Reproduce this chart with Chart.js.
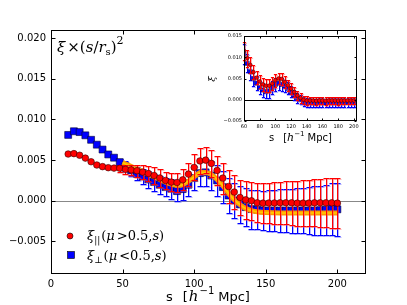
<!DOCTYPE html>
<html>
<head>
<meta charset="utf-8">
<script src="https://cdn.jsdelivr.net/npm/chart.js@4.4.1/dist/chart.umd.min.js"></script>
<style>
html, body { margin: 0; padding: 0; background: #fff; }
#wrap { position: relative; width: 407px; height: 305px; }
#main { position: absolute; left: 0; top: 0; }
#inset { position: absolute; left: 200px; top: 30px; }
</style>
</head>
<body>
<div id="wrap">
<canvas id="main" width="407" height="305"></canvas>
<canvas id="inset" width="165" height="115"></canvas>
</div>
<script>
// separacoes s (h^-1 Mpc) do painel principal
const sVals = [12,16,20,24,28,32,36,40,44,48,52,56,60,64,68,72,76,80,84,88,92,96,100,104,108,112,116,120,124,128,132,136,140,144,148,152,156,160,164,168,172,176,180,184,188,192,196,200];

// xi_par * (s/rs)^2, mu > 0.5
const xiPar = [0.00575,0.0058,0.0056,0.00525,0.0048,0.0044,0.0042,0.00407,0.00402,0.004,
  0.00387,0.0038,0.0037,0.00353,0.00336,0.00311,0.0028,0.0025,0.0023,0.00225,
  0.00258,0.00328,0.0041,0.0049,0.005,0.0046,0.00373,0.00279,0.00176,0.00107,
  0.00041,0.00012,0.0,-0.00025,-0.00029,-0.00028,-0.00027,-0.00025,-0.00025,-0.00025,
  -0.00029,-0.00029,-0.00029,-0.00025,-0.00025,-0.00025,-0.00025,-0.00029];
const xiParErr = [0,0,0,0,0,0,0,0,0,0.0004,
  0.00055,0.00065,0.00075,0.00085,0.00095,0.001,0.00105,0.0011,0.00115,0.0012,
  0.0013,0.0014,0.0016,0.0016,0.0016,0.0017,0.0018,0.0019,0.002,0.0021,
  0.0022,0.0023,0.00235,0.0024,0.00245,0.0025,0.00255,0.0026,0.00265,0.0027,
  0.00275,0.0028,0.00285,0.0029,0.00295,0.003,0.00305,0.0031];

// xi_perp * (s/rs)^2, mu < 0.5
const xiPerp = [0.0081,0.00855,0.00845,0.00805,0.0075,0.0069,0.0063,0.0057,0.0053,0.00476,
  0.00425,0.00373,0.00332,0.00299,0.00262,0.0023,0.00197,0.00168,0.00148,0.00119,
  0.00144,0.00197,0.00279,0.0034,0.0035,0.00311,0.0025,0.00168,0.00065,0.00004,
  -0.00045,-0.00078,-0.00102,-0.0011,-0.00119,-0.0012,-0.0012,-0.0012,-0.0012,-0.0012,
  -0.0012,-0.0012,-0.0012,-0.0012,-0.00115,-0.0011,-0.001,-0.00105];
const xiPerpErr = [0,0,0,0,0,0,0,0,0,0.0004,
  0.0006,0.0007,0.0008,0.0009,0.001,0.00105,0.0011,0.00115,0.0012,0.00125,
  0.0013,0.0014,0.0015,0.0016,0.0017,0.0018,0.0019,0.002,0.0021,0.0022,
  0.0023,0.0023,0.0024,0.0024,0.0024,0.0025,0.0025,0.0026,0.0026,0.0027,
  0.0028,0.0028,0.0029,0.003,0.003,0.0031,0.0032,0.0033];

// curva do modelo (laranja)
const modelS = [50,55,60,65,70,75,80,85,90,95,100,105,110,115,120,125,130,135,140,145,150,160,170,180,190,200];
const modelV = [0.0047,0.0043,0.0039,0.0035,0.0031,0.0027,0.0023,0.002,0.0019,0.0023,0.00295,0.0035,0.0034,0.0028,0.00185,0.0007,-0.0002,-0.00085,-0.0012,-0.00138,-0.00145,-0.0015,-0.0015,-0.0015,-0.0015,-0.0015];

// marcas dos eixos
const mainXTicks = [0, 50, 100, 150, 200];
const mainYTicks = [-0.005, 0, 0.005, 0.010, 0.015, 0.020];
const insetXTicks = [60, 80, 100, 120, 140, 160, 180, 200];
const insetYTicks = [-0.005, 0, 0.005, 0.010, 0.015];

// painel interno: xi sem peso
const insetS = [60,64,68,72,76,80,84,88,92,96,100,104,108,112,116,120,124,128,132,136,140,144,148,152,156,160,164,168,172,176,180,184,188,192,196,200];
const insetPar = [0.0115,0.0098,0.0082,0.0065,0.0052,0.0043,0.0036,0.0033,0.0033,0.0038,
  0.0046,0.005,0.0049,0.0042,0.0034,0.0026,0.0018,0.001,0.0004,0.0,-0.0002,
  -0.0002,-0.0002,-0.00025,-0.0002,-0.0002,-0.00025,-0.0002,-0.0002,-0.0002,-0.00025,-0.0002,-0.0002,-0.0002,-0.0002,-0.0002];
const insetParErr = [0.0022,0.002,0.0018,0.0016,0.0015,0.0015,0.0015,0.0015,0.0015,0.0015,
  0.0015,0.0014,0.0014,0.0014,0.0013,0.0013,0.0012,0.0011,0.0011,0.001,0.001,
  0.0009,0.0009,0.0009,0.0009,0.0009,0.0009,0.0009,0.0009,0.0009,0.0009,0.0009,0.0009,0.0009,0.0009,0.0009];
const insetPerp = [0.0108,0.0086,0.0066,0.005,0.0039,0.0029,0.0023,0.0019,0.0021,0.0029,
  0.0036,0.0039,0.0036,0.0032,0.0027,0.0019,0.0011,0.0005,0.0,-0.00045,-0.0007,
  -0.0007,-0.00075,-0.00075,-0.0007,-0.0007,-0.00075,-0.0007,-0.0007,-0.0007,-0.0007,-0.0007,-0.00065,-0.0006,-0.0006,-0.0006];
const insetPerpErr = [0.0024,0.0021,0.0019,0.0017,0.0016,0.0016,0.0016,0.0016,0.0016,0.0016,
  0.0015,0.0015,0.0015,0.0014,0.0014,0.0013,0.0012,0.0012,0.0011,0.0011,0.001,
  0.001,0.001,0.001,0.001,0.001,0.001,0.001,0.001,0.001,0.001,0.001,0.001,0.001,0.001,0.001];

const SANS = "'DejaVu Sans', sans-serif";
const SERIF = "'DejaVu Serif', serif";

function pts(xs, ys) { return xs.map((x, i) => ({ x: x, y: ys[i] })); }
function fixTicks(list) { return s => { s.ticks = list.map(v => ({ value: v })); }; }
function fmtY(v) {
    if (Math.abs(v) < 1e-12) return '0.000';
    return (v < 0 ? '\u2212' : '') + Math.abs(v).toFixed(3);
}
// escreve pedacos de texto em sequencia (para a notacao matematica)
function drawRuns(ctx, x, y, runs) {
    runs.forEach(r => {
        ctx.font = r.f;
        ctx.fillText(r.t, x, y + (r.dy || 0));
        x += ctx.measureText(r.t).width + (r.dx || 0);
    });
}

// barras de erro desenhadas pelas escalas do grafico
const errorBars = {
    id: 'errorBars',
    beforeDatasetDraw(chart, args) {
        const ds = chart.data.datasets[args.index];
        if (!ds.errors) return;
        const { ctx, scales: { x, y } } = chart;
        const cap = ds.capHalf;
        ctx.save();
        ds.data.forEach((p, i) => {
            const e = ds.errors[i];
            if (!e) return;
            const px = Math.round(x.getPixelForValue(p.x)) + 0.5;
            const top = Math.round(y.getPixelForValue(p.y + e)) + 0.5;
            const bot = Math.round(y.getPixelForValue(p.y - e)) + 0.5;
            // halo claro deslocado, depois a linha fina
            ctx.strokeStyle = ds.errHalo;
            ctx.lineWidth = 1;
            ctx.beginPath();
            ctx.moveTo(px + 1, top); ctx.lineTo(px + 1, bot);
            ctx.moveTo(px - cap, top + 1); ctx.lineTo(px + cap + 1, top + 1);
            ctx.moveTo(px - cap, bot + 1); ctx.lineTo(px + cap + 1, bot + 1);
            ctx.stroke();
            ctx.strokeStyle = ds.errColor;
            ctx.beginPath();
            ctx.moveTo(px, top); ctx.lineTo(px, bot);
            ctx.moveTo(px - cap, top); ctx.lineTo(px + cap, top);
            ctx.moveTo(px - cap, bot); ctx.lineTo(px + cap, bot);
            ctx.stroke();
        });
        ctx.restore();
    }
};

// moldura, marcas para dentro e linha do zero
const frame = {
    id: 'frame',
    beforeDatasetsDraw(chart, args, o) {
        const { ctx, chartArea: a, scales: { y } } = chart;
        const y0 = Math.round(y.getPixelForValue(0)) + 0.5;
        ctx.save();
        ctx.strokeStyle = o.zeroColor;
        ctx.lineWidth = 1;
        ctx.beginPath(); ctx.moveTo(a.left, y0); ctx.lineTo(a.right, y0); ctx.stroke();
        ctx.restore();
    },
    afterDatasetsDraw(chart, args, o) {
        const { ctx, chartArea: a, scales: { x, y } } = chart;
        const L = Math.round(a.left) + 0.5, R = Math.round(a.right) - 0.5;
        const T = Math.round(a.top) + 0.5, B = Math.round(a.bottom) - 0.5;
        ctx.save();
        ctx.strokeStyle = '#000';
        ctx.lineWidth = 1;
        ctx.strokeRect(L, T, R - L, B - T);
        ctx.beginPath();
        x.ticks.forEach(t => {
            const px = Math.round(x.getPixelForValue(t.value)) + 0.5;
            ctx.moveTo(px, B); ctx.lineTo(px, B - o.tick);
            ctx.moveTo(px, T); ctx.lineTo(px, T + o.tick);
        });
        y.ticks.forEach(t => {
            const py = Math.round(y.getPixelForValue(t.value)) + 0.5;
            ctx.moveTo(L, py); ctx.lineTo(L + o.tick, py);
            ctx.moveTo(R, py); ctx.lineTo(R - o.tick, py);
        });
        ctx.stroke();
        ctx.restore();
    }
};

// textos do painel principal
const mainText = {
    id: 'mainText',
    afterDraw(chart) {
        const ctx = chart.ctx;
        ctx.save();
        ctx.fillStyle = '#000';
        ctx.textBaseline = 'alphabetic';
        const it = 'italic 15px ' + SERIF, rm = '15px ' + SERIF;
        drawRuns(ctx, 57, 52, [
            { t: '\u03be', f: it, dx: 2 }, { t: '\u00d7(', f: rm }, { t: 's', f: it },
            { t: '/', f: rm }, { t: 'r', f: it }, { t: 's', f: '10px ' + SERIF, dy: 3 },
            { t: ')', f: rm }, { t: '2', f: '11px ' + SERIF, dy: -8 }
        ]);
        // legenda
        ctx.fillStyle = '#ff0000';
        ctx.strokeStyle = '#000';
        ctx.lineWidth = 0.6;
        ctx.beginPath(); ctx.arc(70, 236, 3, 0, Math.PI * 2); ctx.fill(); ctx.stroke();
        ctx.fillStyle = '#0000ff';
        ctx.fillRect(67.5, 251.5, 7, 7); ctx.strokeRect(67.5, 251.5, 7, 7);
        ctx.fillStyle = '#000';
        const lt = 'italic 13px ' + SERIF, lr = '13px ' + SERIF, sub = '9px ' + SERIF;
        drawRuns(ctx, 87, 240, [
            { t: '\u03be', f: lt }, { t: '||', f: sub, dy: 3, dx: 1 }, { t: '(', f: lr },
            { t: '\u03bc', f: lt, dx: 2 }, { t: '>0.5,', f: lr }, { t: 's', f: lt }, { t: ')', f: lr }
        ]);
        drawRuns(ctx, 87, 260, [
            { t: '\u03be', f: lt }, { t: '\u22a5', f: sub, dy: 3, dx: 1 }, { t: '(', f: lr },
            { t: '\u03bc', f: lt, dx: 2 }, { t: '<0.5,', f: lr }, { t: 's', f: lt }, { t: ')', f: lr }
        ]);
        // rotulo do eixo x
        drawRuns(ctx, 166, 301, [
            { t: 's', f: '13px ' + SANS, dx: 10 }, { t: '[', f: '13px ' + SANS, dx: 1 },
            { t: 'h', f: 'italic 15px ' + SERIF, dx: 1 }, { t: '\u22121', f: '10px ' + SANS, dy: -7, dx: 4 },
            { t: 'Mpc]', f: '13px ' + SANS }
        ]);
        ctx.restore();
    }
};

const insetText = {
    id: 'insetText',
    afterDraw(chart) {
        const ctx = chart.ctx;
        ctx.save();
        ctx.fillStyle = '#000';
        drawRuns(ctx, 69, 111, [
            { t: 's', f: '10px ' + SANS, dx: 9 }, { t: '[', f: '10px ' + SANS },
            { t: 'h', f: 'italic 11px ' + SERIF }, { t: '\u22121', f: '7px ' + SANS, dy: -5, dx: 3 },
            { t: 'Mpc]', f: '10px ' + SANS }
        ]);
        ctx.translate(15, 49);
        ctx.rotate(-Math.PI / 2);
        ctx.font = 'italic 10px ' + SERIF;
        ctx.textAlign = 'center';
        ctx.fillText('\u03be', 0, 0);
        ctx.restore();
    }
};

var mainChart = new Chart(document.getElementById('main').getContext('2d'), {
    type: 'line',
    data: {
        datasets: [{
            data: pts(sVals, xiPar),
            errors: xiParErr, errColor: '#ff0000', errHalo: 'rgba(255,90,90,0.45)', capHalf: 3,
            showLine: false, pointStyle: 'circle', pointRadius: 3.3,
            pointBackgroundColor: '#ff0000', pointBorderColor: '#330000', pointBorderWidth: 0.6
        }, {
            data: pts(modelS, modelV),
            borderColor: '#ffcc00', borderWidth: 1.6, pointRadius: 0, cubicInterpolationMode: 'monotone'
        }, {
            data: pts(modelS, modelV),
            borderColor: '#ff9900', borderWidth: 5, pointRadius: 0, cubicInterpolationMode: 'monotone'
        }, {
            data: pts(sVals, xiPerp),
            errors: xiPerpErr, errColor: '#0000ff', errHalo: 'rgba(90,90,255,0.45)', capHalf: 3,
            showLine: false, pointStyle: 'rect', pointRadius: 4.9,
            pointBackgroundColor: '#0000ff', pointBorderColor: '#000033', pointBorderWidth: 0.6
        }]
    },
    options: {
        responsive: false,
        animation: false,
        layout: { padding: { left: 0, top: 30, right: 41, bottom: 0 } },
        plugins: { legend: { display: false }, tooltip: { enabled: false }, frame: { tick: 4, zeroColor: '#888888' } },
        scales: {
            x: {
                type: 'linear', min: 0, max: 220,
                afterBuildTicks: fixTicks(mainXTicks),
                ticks: { padding: 4, color: '#000', font: { family: SANS, size: 10 } },
                grid: { display: false, drawTicks: false }, border: { display: false },
                afterFit: s => { s.height = 31; }
            },
            y: {
                min: -0.009, max: 0.021,
                afterBuildTicks: fixTicks(mainYTicks),
                ticks: { padding: 5, color: '#000', font: { family: SANS, size: 10 }, callback: fmtY },
                grid: { display: false, drawTicks: false }, border: { display: false },
                afterFit: s => { s.width = 51; }
            }
        }
    },
    plugins: [errorBars, frame, mainText]
});

var insetChart = new Chart(document.getElementById('inset').getContext('2d'), {
    type: 'line',
    data: {
        datasets: [{
            data: pts(insetS, insetPar),
            errors: insetParErr, errColor: '#ff0000', errHalo: 'rgba(255,90,90,0.45)', capHalf: 1.6,
            showLine: false, pointStyle: 'circle', pointRadius: 1.9,
            pointBackgroundColor: '#ff0000', pointBorderColor: '#330000', pointBorderWidth: 0.5
        }, {
            data: pts(insetS, insetPerp),
            errors: insetPerpErr, errColor: '#0000ff', errHalo: 'rgba(90,90,255,0.45)', capHalf: 1.6,
            showLine: false, pointStyle: 'rect', pointRadius: 2.9,
            pointBackgroundColor: '#0000ff', pointBorderColor: '#000033', pointBorderWidth: 0.5
        }]
    },
    options: {
        responsive: false,
        animation: false,
        layout: { padding: { left: 0, top: 6, right: 8, bottom: 0 } },
        plugins: { legend: { display: false }, tooltip: { enabled: false }, frame: { tick: 2, zeroColor: '#000000' } },
        scales: {
            x: {
                type: 'linear', min: 60, max: 204,
                afterBuildTicks: fixTicks(insetXTicks),
                ticks: { padding: 3, color: '#000', font: { family: SANS, size: 5 } },
                grid: { display: false, drawTicks: false }, border: { display: false },
                afterFit: s => { s.height = 24; }
            },
            y: {
                min: -0.005, max: 0.015,
                afterBuildTicks: fixTicks(insetYTicks),
                ticks: { padding: 2, color: '#000', font: { family: SANS, size: 5 }, callback: fmtY },
                grid: { display: false, drawTicks: false }, border: { display: false },
                afterFit: s => { s.width = 44; }
            }
        }
    },
    plugins: [errorBars, frame, insetText]
});
</script>
</body>
</html>
